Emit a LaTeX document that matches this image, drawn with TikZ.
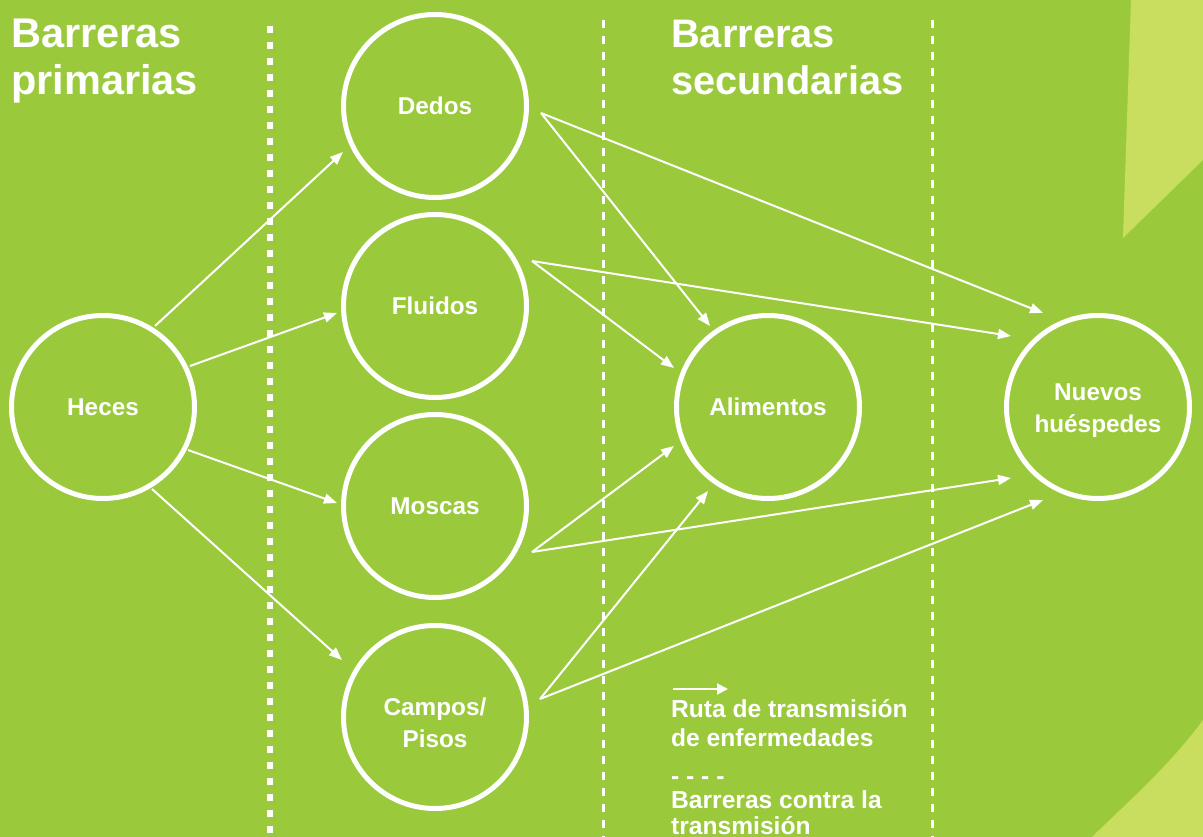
\documentclass[tikz,border=0pt]{standalone}
\usepackage{fontspec}
\setmainfont{Liberation Sans}
\usetikzlibrary{arrows.meta,calc}
\definecolor{bggreen}{RGB}{154,202,60}
\definecolor{lightgreen}{RGB}{201,222,95}
\tikzset{
  station/.style={circle,draw=white,line width=5pt,minimum size=183pt,inner sep=0pt,
    text=white,font=\fontsize{24.3}{32}\selectfont\bfseries,align=center},
  stationtext/.style={text=white,inner sep=0pt,font=\fontsize{24.3}{32}\selectfont\bfseries,align=center},
  route/.style={draw=white,line width=2pt,-{Triangle[length=13pt,width=10pt]}},
  primbarrier/.style={draw=white,line width=6pt,dash pattern=on 7pt off 9pt},
  secbarrier/.style={draw=white,line width=3pt,dash pattern=on 8pt off 8pt},
  titleL/.style={text=white,anchor=base west,inner sep=0pt,font=\fontsize{41.5}{47}\selectfont\bfseries},
  titleR/.style={text=white,anchor=base west,inner sep=0pt,font=\fontsize{39.8}{47}\selectfont\bfseries},
  legend/.style={text=white,anchor=base west,inner sep=0pt,font=\fontsize{24.6}{29}\selectfont\bfseries}
}
\begin{document}
\begin{tikzpicture}[x=1pt,y=-1pt]
\useasboundingbox (0,0) rectangle (1203,837);
\fill[bggreen] (0,0) rectangle (1203,837);
\fill[lightgreen] (1131,0) -- (1203,0) -- (1203,160) -- (1123,238) -- cycle;
\fill[lightgreen] (1092,837) .. controls (1130,800) and (1170,765) .. (1203,720) -- (1203,837) -- cycle;

% barriers
\coordinate (b1t) at (270,26);  \coordinate (b1b) at (270,837);
\coordinate (b2t) at (603,20);  \coordinate (b2b) at (603,837);
\coordinate (b3t) at (932,20);  \coordinate (b3b) at (932,837);
\draw[primbarrier] (b1t) -- (b1b);
\draw[secbarrier] (b2t) -- (b2b);
\draw[secbarrier] (b3t) -- (b3b);

% titles
\node[titleL] (t1a) at (11,48) {Barreras};
\node[titleL] (t1b) at (11,95) {primarias};
\node[titleR] (t2a) at (671,48) {Barreras};
\node[titleR] (t2b) at (671,95) {secundarias};

% stations
\node[station] (heces) at (103,407) {Heces};
\node[station] (dedos) at (435,106) {Dedos};
\node[station] (fluidos) at (435,306) {Fluidos};
\node[station] (moscas) at (435,506) {Moscas};
\node[station] (campos) at (435,717) {};
\node[stationtext] (campostext) at ($(campos)+(0,6)$) {Campos/\\Pisos};
\node[station] (alimentos) at (768,407) {Alimentos};
\node[station] (nuevos) at (1098,407) {};
\node[stationtext] (nuevostext) at ($(nuevos)+(0,4)$) {Nuevos\\huéspedes};

% routes from Heces
\draw[route] ($(heces)+(52,-81)$) -- ($(dedos)+(-92,46)$);
\draw[route] ($(heces)+(87,-41)$) -- ($(fluidos)+(-98,7)$);
\draw[route] ($(heces)+(85,43)$) -- ($(moscas)+(-98,-3)$);
\draw[route] ($(heces)+(49,82)$) -- ($(campos)+(-93,-57)$);
% routes from Dedos
\draw[route] ($(dedos)+(106,7)$) -- ($(alimentos)+(-58,-81)$);
\draw[route] ($(dedos)+(106,7)$) -- ($(nuevos)+(-55,-94)$);
% routes from Fluidos
\draw[route] ($(fluidos)+(97,-45)$) -- ($(alimentos)+(-94,-39)$);
\draw[route] ($(fluidos)+(97,-45)$) -- ($(nuevos)+(-87,-71)$);
% routes from Moscas
\draw[route] ($(moscas)+(97,46)$) -- ($(alimentos)+(-94,39)$);
\draw[route] ($(moscas)+(97,46)$) -- ($(nuevos)+(-87,71)$);
% routes from Campos
\draw[route] ($(campos)+(105,-18)$) -- ($(alimentos)+(-60,84)$);
\draw[route] ($(campos)+(105,-18)$) -- ($(nuevos)+(-55,93)$);

% legend
\coordinate (lga) at (673,689);
\coordinate (lgb) at (728,689);
\draw[route,-{Triangle[length=11pt,width=11pt]}] (lga) -- (lgb);
\node[legend] (l1) at (671,717) {Ruta de transmisión};
\node[legend] (l2) at (671,746) {de enfermedades};
\node[legend] (l3) at (671,784) {- - - -};
\node[legend] (l4) at (671,808) {Barreras contra la};
\node[legend] (l5) at (671,834) {transmisión};
\end{tikzpicture}
\end{document}
